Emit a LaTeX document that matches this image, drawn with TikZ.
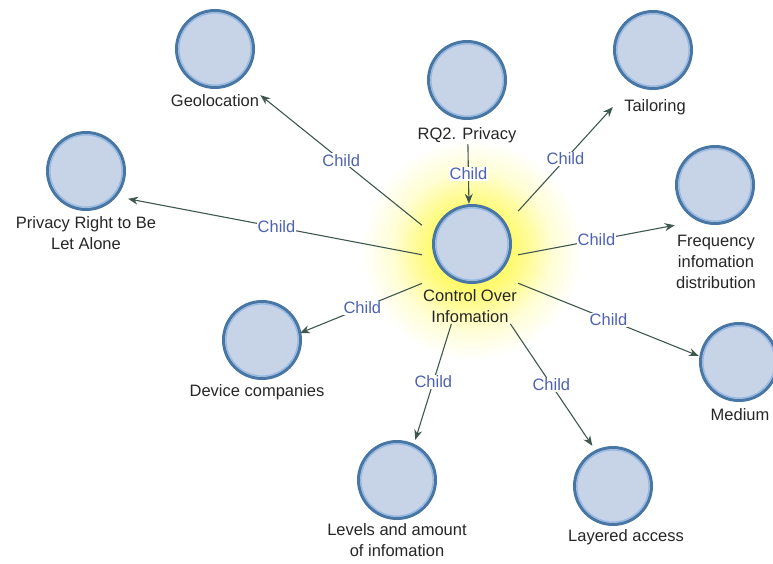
\documentclass[tikz,border=0pt]{standalone}
\usepackage{fontspec}
\setmainfont{Liberation Sans}
\usetikzlibrary{arrows.meta,fit}

\definecolor{ballfill}{RGB}{199,212,232}
\definecolor{ballrim}{RGB}{72,118,165}
\definecolor{ballring}{RGB}{150,185,228}
\definecolor{linkcol}{RGB}{62,88,78}
\definecolor{childcol}{RGB}{78,98,178}
\definecolor{glowy}{RGB}{255,250,110}

\pgfdeclareradialshading{glowshade}{\pgfpoint{0bp}{0bp}}{color(0bp)=(glowy); color(9bp)=(glowy); color(13bp)=(glowy!70!white); color(18bp)=(glowy!30!white); color(25bp)=(white); color(50bp)=(white)}

\tikzset{
  ball/.style={circle,fill=ballfill,draw=ballrim,line width=3pt,minimum size=77pt,inner sep=0pt,
    path picture={\draw[ballring,line width=1.2pt] (path picture bounding box.center) circle (36pt);}},
  caption/.style={font=\fontsize{16.5}{21}\selectfont,text=black!85,align=center,inner sep=1pt},
  grp/.style={inner sep=0pt},
  link/.style={draw=linkcol,line width=1.1pt,-{Stealth[length=10pt,width=8pt]}},
  child/.style={font=\fontsize{16.5}{20}\selectfont,text=childcol,fill=white,inner sep=1pt},
}

\begin{document}
\begin{tikzpicture}[x=1pt,y=-1pt]
    \useasboundingbox (0,0) rectangle (773,563);
    \shade[shading=glowshade] (472,250) circle (110);

    % circles and their captions
    \node[ball] (ctr) at (472,244) {};
    \node[caption] (ctr-t) at (470,306) {Control Over\\Infomation};
    \node[ball] (rq2) at (467,80) {};
    \node[caption] (rq2-t) at (467,135) {RQ2. Privacy};
    \node[ball] (geo) at (215,49) {};
    \node[caption] (geo-t) at (215,101) {Geolocation};
    \node[ball] (tail) at (653,50) {};
    \node[caption] (tail-t) at (655,107) {Tailoring};
    \node[ball] (priv) at (86,171) {};
    \node[caption] (priv-t) at (86,233) {Privacy Right to Be\\Let Alone};
    \node[ball] (freq) at (715,185) {};
    \node[caption] (freq-t) at (716,262) {Frequency\\infomation\\distribution};
    \node[ball] (med) at (739,362) {};
    \node[caption] (med-t) at (740,415) {Medium};
    \node[ball] (dev) at (262,340) {};
    \node[caption] (dev-t) at (257,392) {Device companies};
    \node[ball] (lev) at (397,480) {};
    \node[caption] (lev-t) at (397,540) {Levels and amount\\of infomation};
    \node[ball] (lay) at (613,486) {};
    \node[caption] (lay-t) at (626,537) {Layered access};

    % groups
    \node[grp,fit=(ctr)(ctr-t)] (ctr-g) {};
    \node[grp,fit=(rq2)(rq2-t)] (rq2-g) {};
    \node[grp,fit=(geo)(geo-t)] (geo-g) {};
    \node[grp,fit=(tail)(tail-t)] (tail-g) {};
    \node[grp,fit=(priv)(priv-t)] (priv-g) {};
    \node[grp,fit=(freq)(freq-t)] (freq-g) {};
    \node[grp,fit=(med)(med-t)] (med-g) {};
    \node[grp,fit=(dev)(dev-t)] (dev-g) {};
    \node[grp,fit=(lev)(lev-t)] (lev-g) {};
    \node[grp,fit=(lay)(lay-t)] (lay-g) {};

    \draw[link] (rq2-g) -- node[child] {Child} (ctr-g);
    \draw[link] (ctr-g) -- node[child] {Child} (geo-g);
    \draw[link,shorten >=-30pt] (ctr-g) -- node[child,pos=.55] {Child} (priv-g);
    \draw[link] (ctr-g) -- node[child] {Child} (tail-g);
    \draw[link] (ctr-g) -- node[child] {Child} (freq-g);
    \draw[link] (ctr-g) -- node[child] {Child} (med-g);
    \draw[link,shorten >=-28pt] (ctr-g) -- node[child,pos=.62] {Child} (dev-g);
    \draw[link] (ctr-g) -- node[child] {Child} (lev-g);
    \draw[link] (ctr-g) -- node[child] {Child} (lay-g);
\end{tikzpicture}
\end{document}
